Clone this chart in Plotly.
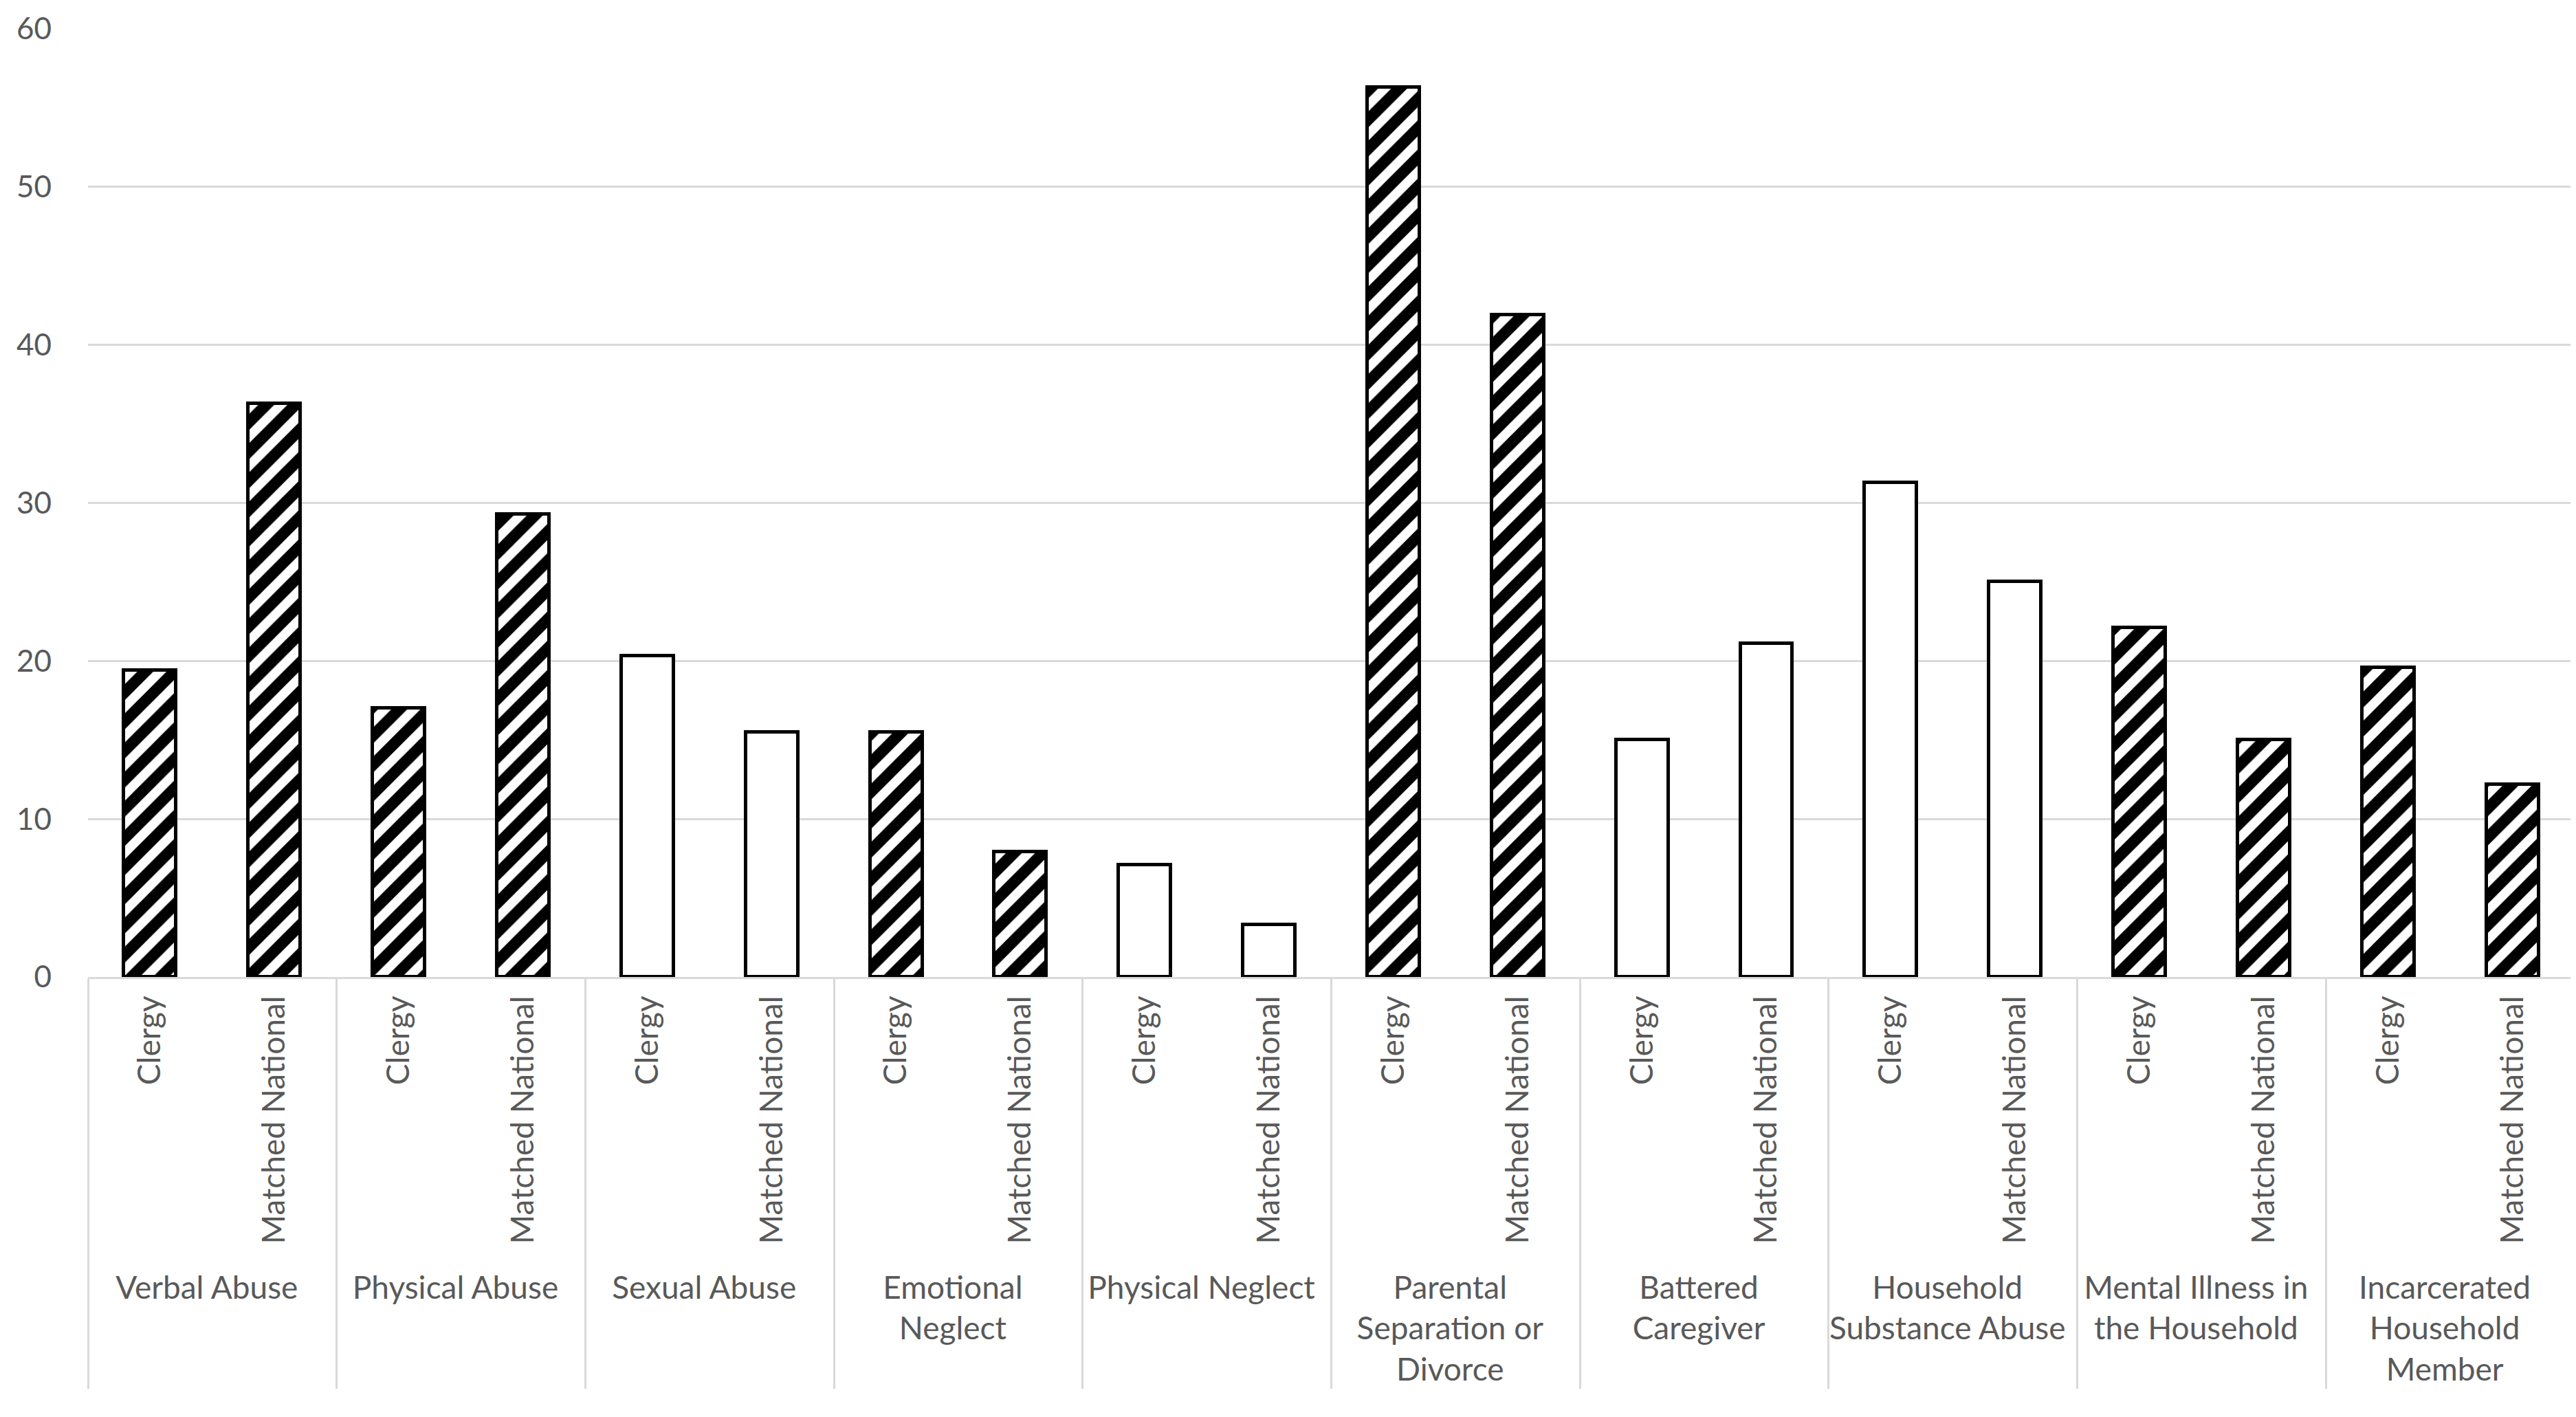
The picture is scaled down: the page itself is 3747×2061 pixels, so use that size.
import plotly.graph_objects as go

categories = ["Verbal Abuse", "Physical Abuse", "Sexual Abuse", "Emotional<br>Neglect",
              "Physical Neglect", "Parental<br>Separation or<br>Divorce", "Battered<br>Caregiver",
              "Household<br>Substance Abuse", "Mental Illness in<br>the Household",
              "Incarcerated<br>Household<br>Member"]
groups = ["Clergy", "Matched National"]
clergy = [19.4, 17.0, 20.3, 15.5, 7.1, 56.3, 15.0, 31.3, 22.1, 19.6]
national = [36.3, 29.3, 15.5, 7.9, 3.3, 41.9, 21.1, 25.0, 15.0, 12.2]
significant = [True, True, False, True, False, True, False, False, True, True]
y_ticks = [0, 10, 20, 30, 40, 50, 60]

x_outer, x_inner, y_vals, shapes = [], [], [], []
for i, cat in enumerate(categories):
    for g, vals in zip(groups, [clergy, national]):
        x_outer.append(cat)
        x_inner.append(g)
        y_vals.append(vals[i])
        shapes.append("/" if significant[i] else "")

TXT = "#595959"
GRID = "#d9d9d9"
FONT = "Lato"

fig = go.Figure(go.Bar(
    x=[x_outer, x_inner],
    y=y_vals,
    width=0.42,
    marker=dict(
        color="white",
        line=dict(color="black", width=5),
        pattern=dict(shape=shapes, fgcolor="black", bgcolor="white", fgopacity=1,
                     fillmode="replace", size=30, solidity=0.55),
    ),
    showlegend=False,
))

fig.update_layout(
    width=3747, height=2061,
    margin=dict(l=120, r=10, t=34, b=648),
    paper_bgcolor="white", plot_bgcolor="white",
    font=dict(family=FONT, size=46, color=TXT),
    bargap=0,
)
fig.update_xaxes(
    type="multicategory", tickangle=-90,
    showdividers=True, dividercolor=GRID, dividerwidth=3,
    showline=True, linecolor=GRID, linewidth=3,
    showgrid=False, automargin=False, ticklabelstandoff=6,
    tickfont=dict(family=FONT, size=46, color=TXT),
)
fig.update_yaxes(
    range=[0, 60], tickvals=y_ticks, showgrid=True, gridcolor=GRID, gridwidth=3,
    zeroline=False, showline=False, automargin=False, ticklabelstandoff=52,
    tickfont=dict(family=FONT, size=44, color=TXT),
)

fig.write_html("out.html")
